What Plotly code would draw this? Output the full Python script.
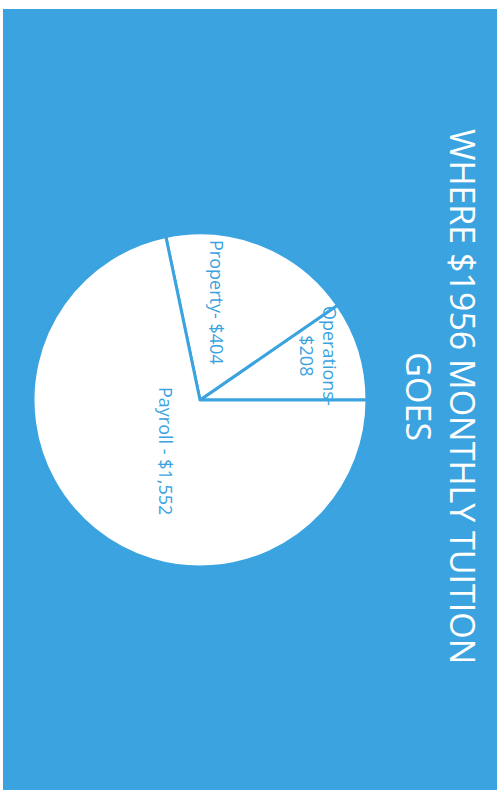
import plotly.graph_objects as go

# Monthly tuition breakdown (values as labelled)
categories = ["Operations", "Property", "Payroll"]
amounts = [208, 404, 1552]
slice_labels = ["Operations-<br>$208", "Property- $404", "Payroll - $1,552"]
title_lines = ["WHERE $1956 MONTHLY TUITION", "GOES"]

BLUE = "#3aa3e0"
W, H = 501, 790

# Plotly's counterclockwise pies end the first slice at `rotation`;
# shift so Operations starts at 3 o'clock and runs upward.
first_share = amounts[0] / sum(amounts) * 360

fig = go.Figure()

fig.add_trace(go.Pie(
    labels=categories,
    values=amounts,
    sort=False,
    direction="counterclockwise",
    rotation=90 - first_share,
    textinfo="none",
    hoverinfo="label+value",
    marker=dict(colors=["white"] * len(amounts), line=dict(color=BLUE, width=3)),
    domain=dict(x=[33 / W, 367 / W], y=[1 - 567 / H, 1 - 233 / H]),
    showlegend=False,
))

# Blue card behind everything, leaving a thin white edge
fig.add_shape(type="rect", xref="paper", yref="paper",
              x0=3 / W, x1=497 / W, y0=0, y1=1 - 9 / H,
              fillcolor=BLUE, line=dict(width=0), layer="below")

label_font = dict(family="Open Sans", size=18, color=BLUE)
label_pos = [(318, 356), (217, 302), (166, 451)]
for text, (px, py) in zip(slice_labels, label_pos):
    fig.add_annotation(x=px / W, y=1 - py / H, xref="paper", yref="paper",
                       xanchor="center", yanchor="middle",
                       text=text, showarrow=False, textangle=90,
                       font=label_font, align="center")

fig.add_annotation(x=441 / W, y=1 - 396 / H, xref="paper", yref="paper",
                   xanchor="center", yanchor="middle",
                   text="<br>".join(title_lines), showarrow=False, textangle=90,
                   font=dict(family="Open Sans", size=34, color="white"),
                   align="center")

fig.update_layout(width=W, height=H, margin=dict(l=0, r=0, t=0, b=0),
                  paper_bgcolor="white")

fig.write_html("out.html")
